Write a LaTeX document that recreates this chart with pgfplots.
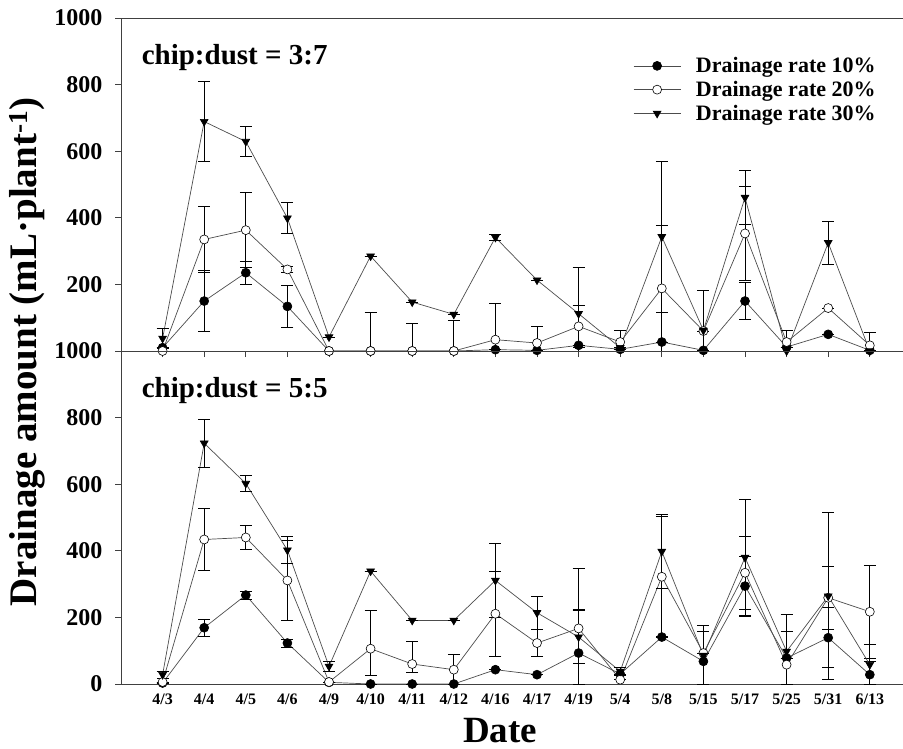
\documentclass[border=0pt]{standalone}
\usepackage{pgfplots}
\usepackage{pgfplotstable}
\pgfplotsset{compat=1.18}
\usepackage{fontspec}
\setmainfont{Liberation Serif}

% columns: index, value / error plus / error minus for 10%, 20%, 30%
\pgfplotstableread{
i a ap am b bp bm c cp cm
0 10 0 0 0 0 0 38 30 30
1 150 92 92 335 100 100 689 120 120
2 235 35 35 363 113 113 629 45 45
3 134 62 62 245 10 10 399 47 47
4 0 0 0 0 0 0 42 0 0
5 0 0 0 0 117 0 285 0 0
6 0 0 0 0 84 0 147 0 0
7 0 0 0 0 93 0 110 0 0
8 4 0 0 34 110 34 341 8 8
9 2 0 0 24 50 24 213 0 0
10 17 0 0 74 63 63 112 138 112
11 5 0 0 27 35 27 10 0 0
12 27 0 0 188 190 188 343 226 226
13 2 0 0 60 0 0 62 120 62
14 150 55 55 353 140 140 461 80 80
15 12 0 0 27 35 27 0 0 0
16 50 0 0 129 0 0 325 65 65
17 2 0 0 17 40 17 0 0 0
}\topdata

\pgfplotstableread{
i a ap am b bp bm c cp cm
0 3 0 0 6 0 0 28 10 10
1 169 25 25 434 92 92 723 72 72
2 267 12 12 440 37 37 602 24 24
3 123 12 12 311 120 120 402 40 40
4 5 0 0 6 0 0 53 15 15
5 0 0 0 106 115 80 339 0 0
6 0 0 0 60 67 25 191 0 0
7 0 0 0 43 45 43 191 0 0
8 43 0 0 211 128 128 311 111 111
9 28 0 0 123 40 40 214 50 50
10 93 130 93 167 180 167 141 80 80
11 30 0 0 13 0 0 38 12 12
12 141 0 0 322 180 180 398 110 110
13 68 90 68 93 0 0 86 90 86
14 294 90 90 334 110 110 380 175 175
15 78 0 0 58 100 58 98 110 98
16 139 90 90 259 95 95 264 250 250
17 28 40 28 217 140 140 58 60 58
}\botdata

\begin{document}
\begin{tikzpicture}
\useasboundingbox (0pt,0pt) rectangle (903pt,-749pt);
\pgfplotsset{
  panel/.style={
    scale only axis, width=785pt, height=333pt,
    xmin=-1, xmax=17.87, ymin=0, ymax=1000,
    axis line style={black!75, line width=0.8pt},
    xtick={0,...,17}, ytick pos=left, xtick pos=bottom,
    tick align=outside, major tick length=6pt,
    tick style={black!75, line width=0.8pt},
    /pgf/number format/1000 sep={},
    /pgf/number format/assume math mode=true,
    yticklabel style={font=\bfseries\fontsize{24}{24}\selectfont, xshift=-9pt},
    xticklabel style={font=\bfseries\fontsize{16}{16}\selectfont},
    clip=false,
  },
  ser/.style={black!70, line width=0.7pt, mark size=4.5pt,
    error bars/y dir=both, error bars/y explicit,
    error bars/error bar style={black, line width=0.8pt},
    error bars/error mark options={black, line width=0.8pt, mark size=6pt, rotate=90}},
  legend image code/.code={\draw[mark repeat=2,mark phase=2,#1] plot coordinates {(0pt,0pt) (23.5pt,0pt) (47pt,0pt)};},
}
\begin{axis}[panel, at={(121pt,-351pt)}, anchor=south west,
  ytick={200,400,...,1000}, xticklabels={},
  legend style={at={(0.6485,0.894)}, anchor=north west, draw=none, fill=none,
    font=\bfseries\fontsize{22}{22}\selectfont, row sep=3pt,
    /tikz/every odd column/.append style={column sep=13pt}},
  legend cell align=left]
\addplot[ser, mark=*, mark options={draw=black, fill=black, solid, line width=0.6pt}] table[x=i, y=a, y error plus=ap, y error minus=am] {\topdata};
\addlegendentry{Drainage rate 10\%}
\addplot[ser, mark=*, mark options={draw=black, fill=white, solid, line width=0.6pt}] table[x=i, y=b, y error plus=bp, y error minus=bm] {\topdata};
\addlegendentry{Drainage rate 20\%}
\addplot[ser, mark=triangle*, mark options={draw=black, fill=black, solid, rotate=180, line width=0.6pt}] table[x=i, y=c, y error plus=cp, y error minus=cm] {\topdata};
\addlegendentry{Drainage rate 30\%}
\node[anchor=west, font=\bfseries\fontsize{29}{29}\selectfont] at (rel axis cs:0.0220,0.880) {chip:dust = 3:7};
\end{axis}
\begin{axis}[panel, at={(121pt,-684pt)}, anchor=south west,
  ytick={0,200,...,1000},
  xticklabels={4/3,4/4,4/5,4/6,4/9,4/10,4/11,4/12,4/16,4/17,4/19,5/4,5/8,5/15,5/17,5/25,5/31,6/13},
  xtick style={draw=none}]
\addplot[ser, mark=*, mark options={draw=black, fill=black, solid, line width=0.6pt}] table[x=i, y=a, y error plus=ap, y error minus=am] {\botdata};
\addplot[ser, mark=*, mark options={draw=black, fill=white, solid, line width=0.6pt}] table[x=i, y=b, y error plus=bp, y error minus=bm] {\botdata};
\addplot[ser, mark=triangle*, mark options={draw=black, fill=black, solid, rotate=180, line width=0.6pt}] table[x=i, y=c, y error plus=cp, y error minus=cm] {\botdata};
\node[anchor=west, font=\bfseries\fontsize{29}{29}\selectfont] at (rel axis cs:0.0220,0.880) {chip:dust = 5:5};
\end{axis}
\node[rotate=90, font=\bfseries\fontsize{39}{39}\selectfont] at (27pt,-352pt) {Drainage amount (mL·plant\textsuperscript{-1})};
\node[anchor=base, font=\bfseries\fontsize{37}{37}\selectfont] at (500pt,-742pt) {Date};
\end{tikzpicture}
\end{document}
